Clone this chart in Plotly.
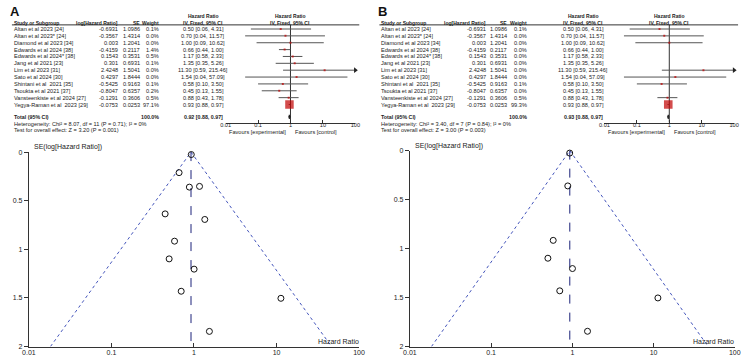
import numpy as np
import plotly.graph_objects as go

# ---------------- data ----------------
studies = ["Altan et al 2023 [24]", "Altan et al 2023* [24]", "Diamond et al 2023 [34]",
           "Edwards et al 2024 [38]", "Edwards et al 2024* [38]", "Jang et al 2021 [23]",
           "Lim et al 2023 [31]", "Sato et al 2024 [30]", "Shintani et al  2021 [35]",
           "Tsoukta et al 2021 [37]", "Vansteenkiste et al 2024 [27]", "Yegya-Raman et al  2023 [29]"]
log_hr = [-0.6931, -0.3567, 0.003, -0.4159, 0.1543, 0.301, 2.4248, 0.4297, -0.5425, -0.8047, -0.1291, -0.0753]
se = [1.0986, 1.4314, 1.2041, 0.2117, 0.3531, 0.6931, 1.5041, 1.8444, 0.9163, 0.6357, 0.3606, 0.0253]
hr = [0.50, 0.70, 1.00, 0.66, 1.17, 1.35, 11.30, 1.54, 0.58, 0.45, 0.88, 0.93]
hr_lo = [0.06, 0.04, 0.09, 0.44, 0.58, 0.35, 0.59, 0.04, 0.10, 0.13, 0.43, 0.88]
hr_hi = [4.31, 11.57, 10.62, 1.00, 2.33, 5.26, 215.46, 57.09, 3.50, 1.55, 1.78, 0.97]

weight_a = [0.1, 0.0, 0.0, 1.4, 0.5, 0.1, 0.0, 0.0, 0.1, 0.2, 0.5, 97.1]
weight_b = [0.1, 0.0, 0.0, 0.0, 0.0, 0.0, 0.0, 0.0, 0.1, 0.0, 0.5, 99.3]
included_a = [1, 1, 1, 1, 1, 1, 1, 1, 1, 1, 1, 1]
included_b = [1, 1, 1, 0, 0, 0, 1, 1, 1, 0, 1, 1]

total_a = (0.92, 0.88, 0.97)
total_b = (0.93, 0.88, 0.97)
het_a = "Heterogeneity: Chi² = 8.07, df = 11 (P = 0.71); I² = 0%"
het_b = "Heterogeneity: Chi² = 3.40, df = 7 (P = 0.84); I² = 0%"
test_a = "Test for overall effect: Z = 3.20 (P = 0.001)"
test_b = "Test for overall effect: Z = 3.00 (P = 0.003)"

forest_ticks = [0.01, 0.1, 1, 10, 100]
forest_ticktext = ["0.01", "0.1", "1", "10", "100"]
funnel_yticks = [0, 0.5, 1, 1.5, 2]
funnel_yticktext = ["0", "0.5", "1", "1.5", "2"]

# ---------------- layout helpers ----------------
W, H = 748, 361
FONT = "Liberation Sans, Arial, sans-serif"
TXT = "#222222"
TS = 5.6   # table font size
HS = 5.0   # header font size


def X(px):
    return px / W


def Y(py):
    return 1 - py / H


ROW0, ROWH = 25.5, 7.0
TOP_PX, AXIS_PX = 21.3, 121.0
TOTAL_ROW = 12.8
row_range = [(AXIS_PX - ROW0) / ROWH, (TOP_PX - ROW0) / ROWH]

fig = go.Figure()
annotations = []
shapes = []


def fmt4(v):
    return f"{v:.4f}".rstrip("0")


def add_text(text, x, y, xanchor="left", size=TS, yref="paper", bold=False, color=TXT):
    if bold:
        text = "<b>" + text + "</b>"
    annotations.append(dict(text=text, x=x, y=y, xref="paper", yref=yref, xanchor=xanchor,
                            yanchor="middle", showarrow=False,
                            font=dict(family=FONT, size=size, color=color)))


def panel(letter, off, hr_col_px, forest_l, forest_r, weights, included, total, het, test,
          fx, fy, ux, uy, fun_l, fun_r, fun_top, fun_bot):
    # letter
    add_text(letter, X(off + 1.5), Y(7.5), size=13, bold=True, color="#111")
    # column headers
    add_text("Study or Subgroup", X(off + 5), Y(19), bold=True, size=HS)
    add_text("log[Hazard Ratio]", X(off + 115), Y(19), xanchor="right", bold=True, size=HS)
    add_text("SE", X(off + 137.3), Y(19), xanchor="right", bold=True, size=HS)
    add_text("Weight", X(off + 157), Y(19), xanchor="right", bold=True, size=HS)
    add_text("Hazard Ratio", X(hr_col_px), Y(12.7), xanchor="center", bold=True, size=HS)
    add_text("IV, Fixed, 95% CI", X(hr_col_px), Y(19), xanchor="center", bold=True, size=HS)
    fmid = (forest_l + forest_r) / 2
    add_text("Hazard Ratio", X(fmid), Y(12.7), xanchor="center", bold=True, size=HS)
    add_text("IV, Fixed, 95% CI", X(fmid), Y(19), xanchor="center", bold=True, size=HS)
    shapes.append(dict(type="line", xref="paper", yref="paper", x0=X(off + 5), x1=X(forest_r + 4),
                       y0=Y(TOP_PX), y1=Y(TOP_PX), line=dict(color="#333", width=1)))
    # rows
    yname = fy.replace("axis", "")
    for i, name in enumerate(studies):
        add_text(name, X(off + 5), i, yref=yname)
        add_text(fmt4(log_hr[i]), X(off + 115), i, xanchor="right", yref=yname)
        add_text(f"{se[i]:.4f}", X(off + 137.3), i, xanchor="right", yref=yname)
        add_text(f"{weights[i]:.1f}%", X(off + 157), i, xanchor="right", yref=yname)
        add_text(f"{hr[i]:.2f} [{hr_lo[i]:.2f}, {hr_hi[i]:.2f}]", X(hr_col_px), i,
                 xanchor="center", yref=yname)
    add_text("Total (95% CI)", X(off + 5), TOTAL_ROW, yref=yname, bold=True, size=HS + 0.3)
    add_text("100.0%", X(off + 157), TOTAL_ROW, xanchor="right", yref=yname, bold=True, size=HS + 0.3)
    add_text(f"{total[0]:.2f} [{total[1]:.2f}, {total[2]:.2f}]", X(hr_col_px), TOTAL_ROW,
             xanchor="center", yref=yname, bold=True, size=HS + 0.3)
    add_text(het, X(off + 5), Y(122.3))
    add_text(test, X(off + 5), Y(128.7))
    x1px = forest_l + (forest_r - forest_l) / 2
    add_text("Favours [experimental]", X(x1px - 2.5), Y(130.5), xanchor="right")
    add_text("Favours [control]", X(x1px + 3), Y(130.5), xanchor="left")

    xa = fx.replace("axis", "")
    ya = yname
    # vertical line at 1
    fig.add_trace(go.Scatter(x=[1, 1], y=row_range, mode="lines", xaxis=xa, yaxis=ya,
                             line=dict(color="#333", width=1), hoverinfo="skip", showlegend=False))
    # CI lines
    cx, cy, arrows_x, arrows_y = [], [], [], []
    sq_x, sq_y, sq_s = [], [], []
    for i in range(len(studies)):
        if not included[i]:
            continue
        hi = min(hr_hi[i], 100)
        cx += [hr_lo[i], hi, None]
        cy += [i, i, None]
        if hr_hi[i] > 100:
            arrows_x.append(100)
            arrows_y.append(i)
        sq_x.append(hr[i])
        sq_y.append(i)
        sq_s.append(max(2.0, 8.5 * np.sqrt(weights[i] / 97.1)))
    fig.add_trace(go.Scatter(x=cx, y=cy, mode="lines", xaxis=xa, yaxis=ya,
                             line=dict(color="#555", width=1), hoverinfo="skip", showlegend=False))
    fig.add_trace(go.Scatter(x=arrows_x, y=arrows_y, mode="markers", xaxis=xa, yaxis=ya,
                             marker=dict(symbol="triangle-right", size=5, color="#222"),
                             hoverinfo="skip", showlegend=False, cliponaxis=False))
    fig.add_trace(go.Scatter(x=sq_x, y=sq_y, mode="markers", xaxis=xa, yaxis=ya,
                             marker=dict(symbol="square", size=sq_s, color="#c00000",
                                         line=dict(width=0)),
                             hoverinfo="skip", showlegend=False))
    est, lo, hi = total
    fig.add_trace(go.Scatter(x=[lo, est, hi, est, lo],
                             y=[TOTAL_ROW, TOTAL_ROW - 0.3, TOTAL_ROW, TOTAL_ROW + 0.3, TOTAL_ROW],
                             mode="lines", fill="toself", fillcolor="#111", xaxis=xa, yaxis=ya,
                             line=dict(color="#111", width=0.7), hoverinfo="skip", showlegend=False))

    fig.layout[fx] = dict(domain=[X(forest_l), X(forest_r)], type="log", range=[-2, 2],
                          anchor=ya, tickvals=forest_ticks, ticktext=forest_ticktext,
                          ticks="inside", ticklen=3, tickcolor="#333", showline=True,
                          linecolor="#333", linewidth=1, showgrid=False, zeroline=False,
                          ticklabelstandoff=-3,
                          tickfont=dict(family=FONT, size=5.6, color=TXT))
    fig.layout[fy] = dict(domain=[Y(AXIS_PX), Y(TOP_PX)], range=row_range, anchor=xa,
                          visible=False, showgrid=False, zeroline=False)

    # ---------------- funnel ----------------
    uxa = ux.replace("axis", "")
    uya = uy.replace("axis", "")
    inc_hr = [np.exp(log_hr[i]) for i in range(len(studies)) if included[i]]
    inc_se = [se[i] for i in range(len(studies)) if included[i]]
    pooled = est
    smax = funnel_yticks[-1]
    fig.add_trace(go.Scatter(x=[pooled * np.exp(-1.96 * smax), pooled, pooled * np.exp(1.96 * smax)],
                             y=[smax, 0, smax], mode="lines", xaxis=uxa, yaxis=uya,
                             line=dict(color="#4455bb", width=1, dash="dot"),
                             hoverinfo="skip", showlegend=False))
    fig.add_trace(go.Scatter(x=[pooled, pooled], y=[0, smax], mode="lines", xaxis=uxa, yaxis=uya,
                             line=dict(color="#1c237a", width=1, dash="dash"),
                             hoverinfo="skip", showlegend=False))
    fig.add_trace(go.Scatter(x=inc_hr, y=inc_se, mode="markers", xaxis=uxa, yaxis=uya,
                             marker=dict(symbol="circle-open", size=6, color="#111",
                                         line=dict(width=1, color="#111")),
                             hoverinfo="skip", showlegend=False, cliponaxis=False))
    fig.layout[ux] = dict(domain=[X(fun_l), X(fun_r)], type="log", range=[-2, 2], anchor=uya,
                          tickvals=forest_ticks, ticktext=forest_ticktext, ticks="inside",
                          ticklen=4, tickcolor="#333", showline=True, linecolor="#333",
                          linewidth=1, showgrid=False, zeroline=False, ticklabelstandoff=-1,
                          tickfont=dict(family=FONT, size=7, color=TXT))
    fig.layout[uy] = dict(domain=[Y(fun_bot), Y(fun_top)], range=[smax, 0], anchor=uxa,
                          tickvals=funnel_yticks, ticktext=funnel_yticktext, ticks="outside",
                          ticklen=4, tickcolor="#333", showline=True, linecolor="#333",
                          linewidth=1, showgrid=False, zeroline=False,
                          tickfont=dict(family=FONT, size=7, color=TXT))
    add_text("SE(log[Hazard Ratio])", X(fun_l + 3), Y(fun_top - 5), size=7)
    add_text("Hazard Ratio", X(fun_r + 1.5), Y(fun_bot - 5), xanchor="right", size=7)


panel("A", 0, 199.5, 222.5, 354.5, weight_a, included_a, total_a, het_a, test_a,
      "xaxis", "yaxis", "xaxis2", "yaxis2", 22.3, 358.3, 151, 349.3)
panel("B", 374, 586.5, 608, 740, weight_b, included_b, total_b, het_b, test_b,
      "xaxis3", "yaxis3", "xaxis4", "yaxis4", 410, 740.7, 149.5, 349.3)

fig.update_layout(width=W, height=H, margin=dict(l=0, r=0, t=0, b=0),
                  paper_bgcolor="white", plot_bgcolor="white",
                  annotations=annotations, shapes=shapes, showlegend=False)
fig.write_html("out.html")
